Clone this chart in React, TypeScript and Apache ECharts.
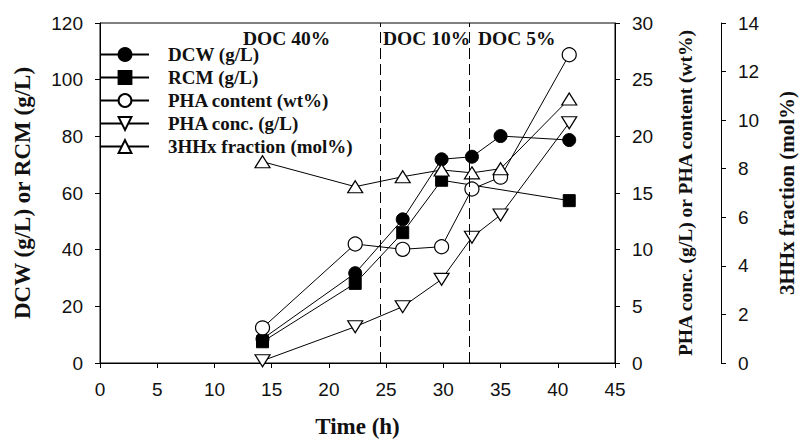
import React, { useEffect, useRef } from "react";
import * as echarts from "echarts";

const timeAll = [14.2, 22.3, 26.45, 29.85, 32.5, 35.0, 41.0];
const dcw = [8.5, 31.7, 50.7, 71.9, 72.8, 80.1, 78.7];
const rcmTime = [14.2, 22.3, 26.45, 29.85, 41.0];
const rcm = [7.5, 28.1, 46.0, 64.5, 57.3];
const phaContent = [3.1, 10.5, 10.03, 10.26, 15.35, 16.4, 27.2];
const phaConc = [0.2, 3.2, 4.97, 7.38, 11.1, 13.06, 21.2];
const hhx = [8.29, 7.26, 7.67, 7.95, 7.83, 8.0, 10.87];
const docLines = [24.5, 32.3];
const docLabels = ["DOC 40%", "DOC 10%", "DOC 5%"];
const names = [
  "DCW (g/L)",
  "RCM (g/L)",
  "PHA content (wt%)",
  "PHA conc. (g/L)",
  "3HHx fraction (mol%)",
];

const zip = (xs: number[], ys: number[]) => xs.map((x, i) => [x, ys[i]]);

export default function App() {
  const ref = useRef<HTMLDivElement>(null);
  useEffect(() => {
    document.body.style.margin = "0";
    const chart = echarts.init(ref.current!, null, { renderer: "svg" });
    const serif = "'Liberation Serif', 'Times New Roman', serif";
    const sans = "'Liberation Sans', Arial, sans-serif";
    const axisCommon = {
      axisLine: { show: true, lineStyle: { color: "#000", width: 1 } },
      axisTick: { show: true, length: 5, lineStyle: { color: "#000" } },
      splitLine: { show: false },
      axisLabel: { color: "#111", fontFamily: sans, fontSize: 19, margin: 17 },
      nameLocation: "middle" as const,
      nameTextStyle: { color: "#111", fontFamily: serif, fontWeight: "bold" as const },
    };
    const openStyle = { color: "#fff", borderColor: "#000", borderWidth: 1.2 };
    const filledStyle = { color: "#000", borderColor: "#000", borderWidth: 1 };
    const lineStyle = { color: "#000", width: 1 };
    chart.setOption({
      animation: false,
      backgroundColor: "#fff",
      grid: { left: 100, right: 189, top: 23, bottom: 82, show: true, borderColor: "#000", borderWidth: 1 },
      legend: {
        orient: "vertical",
        left: 95,
        top: 40,
        itemWidth: 48,
        itemHeight: 16,
        itemGap: 4,
        data: names,
        textStyle: { color: "#111", fontFamily: serif, fontWeight: "bold", fontSize: 19, padding: [0, 0, 0, 14] },
      },
      xAxis: {
        type: "value",
        min: 0,
        max: 45,
        interval: 5,
        name: "Time (h)",
        nameGap: 52,
        ...axisCommon,
        nameTextStyle: { ...axisCommon.nameTextStyle, fontSize: 23 },
      },
      yAxis: [
        {
          type: "value",
          min: 0,
          max: 120,
          interval: 20,
          position: "left",
          name: "DCW (g/L) or RCM (g/L)",
          nameGap: 66,
          ...axisCommon,
          nameTextStyle: { ...axisCommon.nameTextStyle, fontSize: 23 },
        },
        {
          type: "value",
          min: 0,
          max: 30,
          interval: 5,
          position: "right",
          offset: 0,
          name: "PHA conc. (g/L) or PHA content (wt%)",
          nameGap: 60,
          ...axisCommon,
          nameTextStyle: { ...axisCommon.nameTextStyle, fontSize: 19.5 },
        },
        {
          type: "value",
          min: 0,
          max: 14,
          interval: 2,
          position: "right",
          offset: 106,
          name: "3HHx fraction (mol%)",
          nameGap: 55,
          ...axisCommon,
          nameTextStyle: { ...axisCommon.nameTextStyle, fontSize: 21 },
        },
      ],
      graphic: [
        { type: "text", left: 243, top: 28, style: { text: docLabels[0], font: `bold 19.5px ${serif}`, fill: "#111" } },
        { type: "text", left: 383, top: 28, style: { text: docLabels[1], font: `bold 19.5px ${serif}`, fill: "#111" } },
        { type: "text", left: 478, top: 28, style: { text: docLabels[2], font: `bold 19.5px ${serif}`, fill: "#111" } },
      ],
      series: [
        {
          name: names[0],
          type: "line",
          yAxisIndex: 0,
          data: zip(timeAll, dcw),
          symbol: "circle",
          symbolSize: 13,
          lineStyle,
          itemStyle: filledStyle,
          markLine: {
            silent: true,
            symbol: "none",
            label: { show: false },
            lineStyle: { color: "#000", width: 1, type: [11, 5] },
            data: docLines.map((v) => ({ xAxis: v })),
          },
        },
        {
          name: names[1],
          type: "line",
          yAxisIndex: 0,
          data: zip(rcmTime, rcm),
          symbol: "rect",
          symbolSize: 12,
          lineStyle,
          itemStyle: filledStyle,
        },
        {
          name: names[2],
          type: "line",
          yAxisIndex: 1,
          data: zip(timeAll, phaContent),
          symbol: "circle",
          symbolSize: 14,
          lineStyle,
          itemStyle: openStyle,
        },
        {
          name: names[3],
          type: "line",
          yAxisIndex: 1,
          data: zip(timeAll, phaConc),
          symbol: "triangle",
          symbolRotate: 180,
          symbolSize: [15, 12],
          lineStyle,
          itemStyle: openStyle,
        },
        {
          name: names[4],
          type: "line",
          yAxisIndex: 2,
          data: zip(timeAll, hhx),
          symbol: "triangle",
          symbolSize: [15, 12],
          lineStyle,
          itemStyle: openStyle,
        },
      ],
    });
    return () => chart.dispose();
  }, []);
  return <div ref={ref} style={{ position: "absolute", left: 0, top: 0, width: 805, height: 445 }} />;
}
